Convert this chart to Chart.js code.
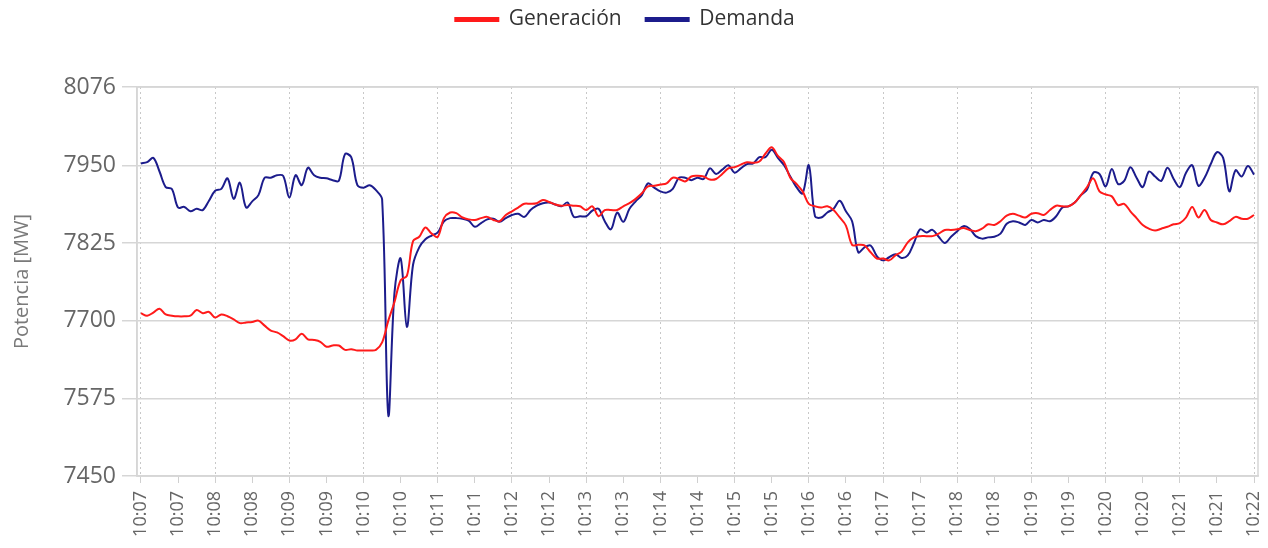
<!DOCTYPE html>
<html lang="es">
<head>
<meta charset="utf-8">
<title>Generación y Demanda</title>
<script src="https://cdn.jsdelivr.net/npm/chart.js@4.4.1/dist/chart.umd.min.js"></script>
<style>
  html, body { margin: 0; padding: 0; background: #fff; }
  #contenedor { width: 1268px; height: 548px; }
</style>
</head>
<body>
<div id="contenedor"><canvas id="grafica" width="1268" height="548"></canvas></div>
<script>
// etiquetas del eje x (una cada 30 s)
const etiquetasX = ['10:07', '10:07', '10:08', '10:08', '10:09', '10:09', '10:10', '10:10',
    '10:11', '10:11', '10:12', '10:12', '10:13', '10:13', '10:14', '10:14', '10:15', '10:15',
    '10:16', '10:16', '10:17', '10:17', '10:18', '10:18', '10:19', '10:19', '10:20', '10:20',
    '10:21', '10:21', '10:22'];
const etiquetasY = [7450, 7575, 7700, 7825, 7950, 8076];
const pasoSegundos = 5; // una muestra cada 5 segundos

// MW
const generacion = [7712, 7708, 7713, 7719, 7710, 7708, 7707, 7707, 7708, 7717,
    7712, 7714, 7705, 7710, 7707, 7702, 7696, 7697, 7698, 7700,
    7692, 7684, 7681, 7675, 7668, 7670, 7679, 7670, 7669, 7666,
    7658, 7660, 7660, 7653, 7654, 7652, 7652, 7652, 7653, 7665,
    7700, 7730, 7765, 7772, 7828, 7835, 7850, 7840, 7835, 7865,
    7874, 7873, 7866, 7863, 7862, 7865, 7867, 7862, 7860, 7870,
    7876, 7882, 7888, 7888, 7889, 7894, 7891, 7887, 7885, 7886,
    7885, 7884, 7878, 7884, 7868, 7878, 7878, 7878, 7884, 7889,
    7896, 7905, 7916, 7917, 7919, 7921, 7930, 7928, 7924, 7932,
    7933, 7932, 7927, 7928, 7936, 7945, 7947, 7951, 7955, 7954,
    7956, 7969, 7979, 7965, 7955, 7930, 7920, 7908, 7888, 7884,
    7882, 7884, 7878, 7866, 7853, 7822, 7822, 7821, 7810, 7800,
    7800, 7797, 7805, 7811, 7826, 7834, 7836, 7836, 7836, 7840,
    7846, 7846, 7847, 7849, 7846, 7844, 7848, 7855, 7854, 7860,
    7869, 7872, 7869, 7866, 7872, 7873, 7870, 7878, 7885, 7884,
    7884, 7890, 7902, 7915, 7929, 7908, 7903, 7900, 7886, 7888,
    7876, 7865, 7854, 7848, 7845, 7848, 7851, 7855, 7857, 7866,
    7883, 7866, 7878, 7862, 7858, 7855, 7860, 7867, 7864, 7864,
    7870];

const demanda = [7953, 7955, 7962, 7940, 7915, 7912, 7882, 7883, 7876, 7880,
    7878, 7893, 7909, 7912, 7929, 7896, 7922, 7882, 7892, 7902,
    7930, 7930, 7934, 7933, 7898, 7934, 7918, 7946, 7934, 7930,
    7929, 7926, 7925, 7968, 7963, 7918, 7914, 7918, 7910, 7895,
    7548, 7745, 7800, 7690, 7790, 7818, 7831, 7837, 7842, 7860,
    7865, 7865, 7864, 7861, 7851, 7857, 7863, 7864, 7859, 7865,
    7870, 7872, 7867, 7878, 7885, 7889, 7890, 7887, 7884, 7890,
    7867, 7868, 7868, 7877, 7880, 7860, 7847, 7874, 7859, 7880,
    7892, 7902, 7921, 7914, 7908, 7906, 7912, 7930, 7930, 7926,
    7930, 7928, 7945, 7936, 7943, 7950, 7938, 7945, 7952, 7953,
    7963, 7963, 7975, 7962, 7950, 7932, 7915, 7905, 7950, 7868,
    7866, 7874, 7880, 7893, 7876, 7860, 7810, 7818, 7821, 7804,
    7797, 7802, 7807, 7801, 7805, 7825, 7847, 7842, 7846, 7835,
    7825, 7835, 7844, 7852, 7848, 7836, 7832, 7834, 7835, 7840,
    7856, 7860, 7858, 7854, 7862, 7858, 7862, 7860, 7868, 7882,
    7884, 7890, 7902, 7911, 7938, 7936, 7916, 7944, 7920, 7925,
    7947, 7930, 7915, 7940, 7932, 7925, 7946, 7928, 7915, 7938,
    7950, 7917, 7930, 7952, 7971, 7962, 7908, 7942, 7932, 7949,
    7935];

const puntos = (serie) => serie.map((v, i) => ({ x: i * pasoSegundos, y: v }));

// marco gris alrededor del area de la grafica
const marco = {
    id: 'marco',
    beforeDatasetsDraw(chart) {
        const { ctx, chartArea: a } = chart;
        ctx.save();
        ctx.strokeStyle = '#d6d6d6';
        ctx.lineWidth = 1.5;
        ctx.strokeRect(a.left, a.top, a.right - a.left, a.bottom - a.top);
        ctx.restore();
    }
};

// alto fijo para la leyenda y la subo un poco
const altoLeyenda = {
    id: 'altoLeyenda',
    beforeInit(chart) {
        const leyenda = chart.legend;
        const fitOriginal = leyenda.fit;
        const drawOriginal = leyenda.draw;
        leyenda.fit = function () {
            fitOriginal.bind(leyenda)();
            this.height = 87;
        };
        leyenda.draw = function () {
            const c = chart.ctx;
            c.save();
            c.translate(-4, -15);
            drawOriginal.bind(leyenda)();
            c.restore();
        };
    }
};

const ctx = document.getElementById('grafica').getContext('2d');

new Chart(ctx, {
    type: 'line',
    data: {
        datasets: [
            {
                label: 'Generación',
                data: puntos(generacion),
                borderColor: '#ff1a1a',
                backgroundColor: '#ff1a1a',
                borderWidth: 2,
                pointRadius: 0,
                tension: 0.35,
            },
            {
                label: 'Demanda',
                data: puntos(demanda),
                borderColor: '#1c1c8c',
                backgroundColor: '#1c1c8c',
                borderWidth: 2,
                pointRadius: 0,
                tension: 0.35,
            }
        ]
    },
    options: {
        responsive: false,
        animation: false,
        layout: { padding: { right: 10 } },
        plugins: {
            legend: {
                labels: {
                    boxWidth: 43,
                    boxHeight: 3,
                    padding: 24,
                    color: '#333',
                    font: { family: 'Open Sans', size: 21 },
                },
            },
            tooltip: { enabled: false },
        },
        scales: {
            x: {
                type: 'linear',
                min: -3.2,
                max: 903.2,
                afterBuildTicks: (scale) => {
                    scale.ticks = etiquetasX.map((_, i) => ({ value: i * 30 }));
                },
                afterFit: (scale) => {
                    scale.height = 72;
                    scale.paddingLeft = 0;
                    scale.paddingRight = 0;
                },
                ticks: {
                    autoSkip: false,
                    minRotation: 90,
                    maxRotation: 90,
                    padding: 8,
                    color: '#666',
                    font: { family: 'Open Sans', size: 18 },
                    callback: (valor, indice) => etiquetasX[indice],
                },
                grid: {
                    color: (c) => (c.index % 2 === 0 ? '#c8c8c8' : 'rgba(0,0,0,0)'),
                    tickColor: '#d0d0d0',
                    tickLength: 7,
                    lineWidth: 1,
                },
                border: { color: '#d6d6d6', width: 1.5, dash: [2, 3] },
            },
            y: {
                min: 7450,
                max: 8076,
                afterBuildTicks: (scale) => {
                    scale.ticks = etiquetasY.map((v) => ({ value: v }));
                },
                afterFit: (scale) => { scale.width = 137; },
                ticks: {
                    padding: 6,
                    color: '#666',
                    font: { family: 'Open Sans', size: 23 },
                    callback: (valor) => String(valor),
                },
                grid: {
                    color: '#d6d6d6',
                    lineWidth: 1.5,
                    tickLength: 15,
                },
                border: { color: '#d6d6d6', width: 1.5 },
                title: {
                    display: true,
                    text: 'Potencia [MW]',
                    color: '#7a7a7a',
                    font: { family: 'Open Sans', size: 20 },
                    padding: { top: 10, bottom: 4 },
                },
            },
        },
    },
    plugins: [marco, altoLeyenda],
});
</script>
</body>
</html>
